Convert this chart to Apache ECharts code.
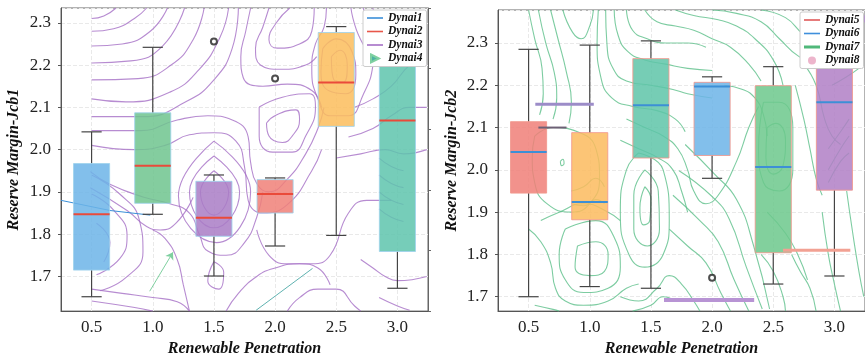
<!DOCTYPE html>
<html><head><meta charset="utf-8">
<script src="https://cdn.jsdelivr.net/npm/echarts@6/dist/echarts.min.js"></script>
<style>html,body{margin:0;padding:0;background:#fff}#c{width:865px;height:362px}</style>
</head><body><div id="c"></div>
<script>
const categories = ['0.5','1.0','1.5','2.0','2.5','3.0'];
// [min, q1, median, q3, max]
const jcb1Box = [
  [1.652, 1.715, 1.847, 1.967, 2.042],
  [1.847, 1.873, 1.962, 2.087, 2.242],
  [1.701, 1.795, 1.839, 1.925, 1.940],
  [1.772, 1.850, 1.895, 1.929, 1.933],
  [1.797, 2.055, 2.159, 2.277, 2.291],
  [1.672, 1.759, 2.069, 2.290, 2.320]
];
const jcb1Outliers = [[2, 2.256], [3, 2.168]];
const jcb2Box = [
  [1.700, 1.945, 2.042, 2.114, 2.285],
  [1.724, 1.882, 1.924, 2.088, 2.295],
  [1.720, 2.028, 2.153, 2.263, 2.305],
  [1.980, 2.034, 2.197, 2.207, 2.220],
  [1.730, 1.804, 2.007, 2.199, 2.244],
  [1.749, 1.952, 2.160, 2.300, 2.340]
];
const jcb2Outliers = [[3, 1.745]];

// extra marks (data coords: x in penetration units, y in reserve margin)
const dynai1Line = [[0.25, 1.88], [0.65, 1.856], [0.98, 1.845]];
const dynai4Arrow = [[0.975, 1.665], [1.165, 1.757]];
const tealLine = [[1.845, 1.62], [2.306, 1.719]];
const dynai5Bar = [[2.58, 1.81], [3.13, 1.81]];
const purpleBarTop = [[0.555, 2.155], [1.033, 2.155]];
const darkBar = [[0.58, 2.1], [0.81, 2.1]];
const purpleBarBottom = [[1.607, 1.692], [2.344, 1.692]];
const purpleSquare = [[3.235, 2.357]];

// approximate contour paths read from the background
const contourLeft = [
  [[0.5,2.31],[0.6,2.316],[0.7,2.335]],
  [[0.5,2.28],[0.68,2.286],[0.85,2.31],[0.95,2.335]],
  [[0.5,2.245],[0.75,2.25],[0.98,2.28],[1.12,2.335]],
  [[0.5,2.205],[0.82,2.21],[1.08,2.245],[1.26,2.335]],
  [[0.5,2.165],[0.88,2.168],[1.15,2.2],[1.33,2.26],[1.42,2.335]],
  [[0.5,2.12],[0.78,2.113],[1.14,2.136],[1.38,2.19],[1.55,2.266],[1.62,2.335]],
  [[0.5,2.078],[0.92,2.078],[1.27,2.113],[1.5,2.165],[1.65,2.24],[1.7,2.335]],
  [[1.8,2.335],[1.76,2.28],[1.72,2.22],[1.74,2.17],[1.9,2.15],[2.1,2.155],[2.3,2.14],[2.38,2.1]],
  [[1.95,2.335],[1.9,2.29],[1.84,2.24],[1.88,2.2],[2.05,2.19],[2.25,2.2],[2.34,2.22]],
  [[2.12,2.335],[2.01,2.3],[1.95,2.26],[2.02,2.24],[2.2,2.25],[2.3,2.28],[2.32,2.335]],
  [[0.5,2.045],[0.9,2.045],[1.2,2.07],[1.45,2.08],[1.65,2.07],[1.78,2.03],[1.8,1.97],[1.85,1.92],[1.95,1.9],[2.1,1.93],[2.25,1.99],[2.35,2.05],[2.4,2.1]],
  [[0.5,2.01],[0.85,2.0],[1.1,2.01],[1.3,2.035],[1.5,2.04],[1.68,2.02],[1.75,1.96],[1.78,1.88],[1.9,1.85],[2.1,1.87],[2.3,1.95],[2.38,2.0]],
  [[1.93,2.063],[2.01,2.082],[2.17,2.094],[2.2,2.071],[2.14,2.032],[2.06,2.017],[1.95,2.032],[1.93,2.063]],
  [[1.87,2.101],[2.06,2.124],[2.28,2.132],[2.33,2.101],[2.25,2.032],[2.14,1.994],[1.98,1.994],[1.87,2.032],[1.87,2.101]],
  [[2.39,2.239],[2.5,2.262],[2.63,2.231],[2.66,2.178],[2.58,2.132],[2.44,2.139],[2.375,2.185],[2.39,2.239]],
  [[2.46,2.22],[2.53,2.235],[2.59,2.2],[2.56,2.16],[2.48,2.165],[2.46,2.22]],
  [[2.42,2.335],[2.4,2.29],[2.33,2.25],[2.3,2.19],[2.35,2.12],[2.45,2.08],[2.6,2.08],[2.72,2.13],[2.8,2.2],[2.82,2.28],[2.8,2.335]],
  [[2.65,2.1],[2.8,2.12],[2.95,2.15],[3.1,2.2],[3.24,2.22]],
  [[2.6,2.03],[2.8,2.05],[2.95,2.08],[3.1,2.1],[3.24,2.1]],
  [[2.5,1.98],[2.7,1.99],[2.9,2.0],[3.05,1.99],[3.24,2.0]],
  [[1.5,1.95],[1.62,1.9],[1.5,1.845],[1.39,1.9],[1.5,1.95]],
  [[1.5,1.985],[1.71,1.9],[1.5,1.815],[1.3,1.9],[1.5,1.985]],
  [[1.5,2.02],[1.8,1.9],[1.52,1.78],[1.21,1.89],[1.5,2.02]],
  [[0.49,1.948],[0.65,1.918],[0.92,1.888],[1.14,1.872],[1.3,1.85],[1.38,1.8],[1.45,1.76],[1.6,1.75],[1.75,1.78],[1.85,1.84],[1.9,1.9]],
  [[0.49,1.91],[0.79,1.856],[0.95,1.818],[1.06,1.81],[1.19,1.826],[1.33,1.887]],
  [[0.5,1.94],[0.73,1.895],[0.89,1.834],[0.92,1.758],[0.78,1.697],[0.57,1.666]],
  [[0.5,1.895],[0.68,1.857],[0.79,1.796],[0.73,1.742],[0.54,1.704]],
  [[0.54,1.826],[0.65,1.78],[0.6,1.734]],
  [[0.5,1.642],[0.84,1.627],[1.0,1.618]],
  [[0.5,1.67],[0.75,1.66],[1.0,1.65],[1.2,1.64],[1.3,1.618]],
  [[1.5,1.735],[1.58,1.71],[1.54,1.67],[1.45,1.69],[1.5,1.735]],
  [[1.0,1.81],[1.1,1.79],[1.2,1.74],[1.25,1.68],[1.3,1.618]],
  [[1.6,1.618],[1.7,1.66],[1.85,1.7],[2.0,1.72],[2.2,1.73],[2.35,1.72],[2.45,1.68]],
  [[1.85,1.81],[1.95,1.75],[2.1,1.73],[2.3,1.73],[2.45,1.75],[2.6,1.85],[2.75,1.88],[2.95,1.88]],
  [[2.1,1.618],[2.2,1.65],[2.35,1.67],[2.5,1.67],[2.65,1.63],[2.7,1.618]],
  [[2.7,1.74],[2.8,1.72],[2.9,1.7],[3.0,1.69],[3.24,1.7]],
  [[2.85,1.65],[3.0,1.63],[3.1,1.62]],
  [[2.85,1.98],[2.95,1.96],[3.05,1.95]],
  [[2.85,1.94],[2.95,1.92],[3.05,1.91]],
  [[2.85,1.9],[2.95,1.88],[3.05,1.87]],
  [[2.85,1.86],[2.95,1.84],[3.05,1.83]],
  [[2.72,2.335],[2.78,2.3],[2.9,2.27],[3.05,2.26],[3.24,2.27]],
  [[2.62,2.335],[2.7,2.26],[2.85,2.21],[3.0,2.2],[3.24,2.2]]
];
const contourRight = [
  [[0.5,2.378],[0.55,2.31],[0.61,2.24],[0.62,2.18],[0.59,2.13]],
  [[0.58,2.378],[0.64,2.3],[0.71,2.23],[0.73,2.17],[0.7,2.12]],
  [[0.68,2.378],[0.74,2.31],[0.81,2.23],[0.85,2.16],[0.83,2.11]],
  [[0.78,2.378],[0.86,2.325],[0.93,2.31],[1.0,2.34],[1.03,2.378]],
  [[1.07,2.378],[1.06,2.3],[1.09,2.22],[1.18,2.17],[1.35,2.15],[1.55,2.14],[1.7,2.12],[1.78,2.09]],
  [[1.13,2.378],[1.14,2.3],[1.19,2.24],[1.3,2.21],[1.5,2.2],[1.68,2.19],[1.8,2.18],[2.0,2.17]],
  [[1.2,2.378],[1.23,2.32],[1.31,2.28],[1.45,2.26],[1.62,2.25],[1.8,2.24],[2.0,2.235]],
  [[1.3,2.378],[1.35,2.33],[1.47,2.31],[1.62,2.3],[1.8,2.3],[1.95,2.29]],
  [[1.45,2.378],[1.55,2.35],[1.7,2.34],[1.85,2.33],[2.0,2.31],[2.15,2.29],[2.3,2.25],[2.4,2.21]],
  [[1.7,2.378],[1.85,2.365],[2.05,2.355],[2.2,2.34],[2.35,2.31],[2.5,2.26],[2.58,2.2]],
  [[2.0,2.378],[2.2,2.37],[2.4,2.35],[2.55,2.31],[2.7,2.27],[2.85,2.25],[3.0,2.25]],
  [[2.4,2.378],[2.6,2.36],[2.75,2.32],[2.9,2.3],[3.05,2.3]],
  [[1.3,2.12],[1.45,2.1],[1.6,2.08],[1.72,2.05],[1.8,2.0],[1.85,1.95],[1.95,1.92],[2.05,1.94],[2.2,2.02],[2.3,2.1],[2.38,2.15]],
  [[1.25,2.07],[1.4,2.05],[1.55,2.03],[1.68,2.0],[1.75,1.95],[1.8,1.9]],
  [[2.1,2.2],[2.25,2.19],[2.35,2.17],[2.42,2.13],[2.45,2.08]],
  [[2.45,2.1],[2.52,2.11],[2.6,2.07],[2.58,2.01],[2.5,1.99],[2.44,2.03],[2.45,2.1]],
  [[2.42,2.16],[2.55,2.16],[2.66,2.1],[2.66,2.0],[2.55,1.95],[2.42,1.97],[2.38,2.05],[2.42,2.16]],
  [[2.68,2.2],[2.75,2.12],[2.8,2.05],[2.85,1.98],[2.9,1.94]],
  [[2.75,2.25],[2.85,2.2],[2.92,2.12],[2.98,2.08],[3.05,2.06]],
  [[2.95,2.05],[3.05,2.09],[3.12,2.12]],
  [[2.95,2.0],[3.05,2.05],[3.12,2.08]],
  [[2.95,1.97],[3.05,2.02],[3.12,2.04]],
  [[2.98,2.2],[3.1,2.22],[3.2,2.24]],
  [[0.55,2.08],[0.7,2.1],[0.9,2.09],[1.05,2.05],[1.08,1.98],[1.0,1.92],[0.85,1.9],[0.65,1.92],[0.55,1.97],[0.53,2.03],[0.55,2.08]],
  [[0.76,2.02],[0.78,2.025],[0.79,2.015],[0.77,2.01],[0.76,2.02]],
  [[0.85,1.95],[0.95,1.96],[1.05,1.98],[1.12,1.96]],
  [[0.85,1.92],[0.95,1.915],[1.05,1.93],[1.12,1.92]],
  [[1.45,1.96],[1.5,1.93],[1.49,1.88],[1.44,1.87],[1.41,1.91],[1.45,1.96]],
  [[1.45,2.0],[1.56,1.95],[1.57,1.86],[1.47,1.82],[1.36,1.86],[1.36,1.94],[1.45,2.0]],
  [[1.4,2.04],[1.6,2.0],[1.65,1.88],[1.6,1.8],[1.45,1.77],[1.32,1.8],[1.25,1.9],[1.3,2.0],[1.4,2.04]],
  [[0.9,1.82],[1.05,1.83],[1.15,1.8],[1.12,1.76],[1.0,1.75],[0.88,1.77],[0.9,1.82]],
  [[0.8,1.86],[1.05,1.88],[1.2,1.84],[1.25,1.77],[1.15,1.72],[0.95,1.71],[0.8,1.74],[0.75,1.8],[0.8,1.86]],
  [[0.6,1.88],[0.75,1.9],[0.95,1.92],[1.15,1.9],[1.25,1.88]],
  [[0.5,1.86],[0.6,1.83],[0.68,1.78],[0.72,1.72],[0.8,1.69],[0.95,1.68],[1.15,1.69],[1.3,1.72],[1.4,1.73]],
  [[0.55,1.68],[0.7,1.67],[0.75,1.666]],
  [[1.25,1.7],[1.4,1.69],[1.55,1.72],[1.65,1.75],[1.75,1.73],[1.85,1.69],[1.9,1.666]],
  [[1.35,1.666],[1.5,1.68],[1.6,1.7],[1.7,1.69]],
  [[1.73,1.998],[2.0,1.937],[2.14,1.884],[2.28,1.77],[2.41,1.671]],
  [[1.78,2.06],[2.02,1.99],[2.2,1.93],[2.34,1.82],[2.47,1.671]],
  [[1.68,1.94],[1.9,1.88],[2.05,1.83],[2.18,1.74],[2.3,1.666]],
  [[1.65,1.86],[1.8,1.82],[1.95,1.78],[2.07,1.71],[2.15,1.666]],
  [[2.65,1.8],[2.72,1.76],[2.8,1.72],[2.85,1.666]],
  [[2.9,1.9],[2.95,1.8],[3.0,1.73],[3.05,1.666]],
  [[3.1,1.95],[3.15,1.85],[3.2,1.76],[3.24,1.7]],
  [[2.4,1.8],[2.5,1.76],[2.58,1.7],[2.6,1.666]],
  [[2.45,1.9],[2.6,1.85],[2.7,1.8],[2.78,1.74]]
];

const boxColorsLeft = ['#6cb4e8','#6ec48e','#a97cc6','#f08078','#fbbd5c','#5ec4ad'];
const boxColorsRight = ['#f07f78','#fbbb5e','#5ec4a8','#6cb4e8','#6cc88c','#b07fc6'];
const SERIF = "'Liberation Serif','Times New Roman',serif";
const LINE_ICON = 'path://M0,0H16V1.6H0Z';
const THICK_ICON = 'path://M0,0H16V3H0Z';

function boxRenderer(colors, border, medianColor) {
  return function (params, api) {
    const i = api.value(0);
    const lo = api.coord([i, api.value(1)]);
    const q1 = api.coord([i, api.value(2)]);
    const md = api.coord([i, api.value(3)]);
    const q3 = api.coord([i, api.value(4)]);
    const hi = api.coord([i, api.value(5)]);
    const band = api.size([1, 0])[0];
    const bw = band * 0.59, cw = band * 0.33, cx = lo[0];
    const ws = {stroke: '#444', lineWidth: 1.2};
    return {type: 'group', children: [
      {type: 'line', shape: {x1: cx, y1: hi[1], x2: cx, y2: q3[1]}, style: ws},
      {type: 'line', shape: {x1: cx, y1: q1[1], x2: cx, y2: lo[1]}, style: ws},
      {type: 'line', shape: {x1: cx - cw / 2, y1: hi[1], x2: cx + cw / 2, y2: hi[1]}, style: ws},
      {type: 'line', shape: {x1: cx - cw / 2, y1: lo[1], x2: cx + cw / 2, y2: lo[1]}, style: ws},
      {type: 'rect', shape: {x: cx - bw / 2, y: q3[1], width: bw, height: q1[1] - q3[1]},
        style: {fill: colors[params.dataIndex], stroke: border, lineWidth: 1, opacity: 0.85}},
      {type: 'line', shape: {x1: cx - bw / 2, y1: md[1], x2: cx + bw / 2, y2: md[1]}, style: {stroke: medianColor, lineWidth: 2}}
    ]};
  };
}

function contourSeries(list, name, color, xi, yi) {
  return list.map(pts => ({
    type: 'line', name: name, xAxisIndex: xi, yAxisIndex: yi, data: pts, smooth: 0.5,
    symbol: 'none', silent: true, z: 1,
    lineStyle: {color: color, width: 1.1, opacity: 0.8}, itemStyle: {color: color}
  }));
}
function seg(name, pts, color, width, xi, yi, z) {
  return {type: 'line', name: name, xAxisIndex: xi, yAxisIndex: yi, data: pts, symbol: 'none', silent: true,
    z: z || 2, lineStyle: {color: color, width: width}, itemStyle: {color: color}};
}

const nameStyle = {fontFamily: SERIF, fontStyle: 'italic', fontWeight: 'bold', fontSize: 16, color: '#111'};
const labelStyle = {fontFamily: SERIF, fontSize: 17, color: '#222'};
const legendText = {fontFamily: SERIF, fontStyle: 'italic', fontWeight: 'bold', fontSize: 11.5, color: '#111', lineHeight: 8};

function catAxis(g) {
  return {type: 'category', gridIndex: g, data: categories, boundaryGap: true,
    axisLine: {lineStyle: {color: '#555'}}, axisTick: {alignWithLabel: true, length: 3, lineStyle: {color: '#555'}},
    axisLabel: Object.assign({margin: 8}, labelStyle), splitLine: {show: false},
    name: 'Renewable Penetration', nameLocation: 'middle', nameGap: 22, nameTextStyle: nameStyle};
}
function valXAxis(g) {
  return {type: 'value', gridIndex: g, min: 0.25, max: 3.25, splitNumber: 6,
    axisLine: {show: false}, axisTick: {show: false}, axisLabel: {show: false},
    splitLine: {show: true, lineStyle: {color: '#e9e9e9', type: 'dashed'}}};
}
function valYAxis(g, min, max, name, gap) {
  return {type: 'value', gridIndex: g, min: min, max: max, splitNumber: 5,
    axisLine: {show: true, lineStyle: {color: '#555'}}, axisTick: {show: true, length: 3, lineStyle: {color: '#555'}},
    axisLabel: Object.assign({margin: 10, showMinLabel: false, showMaxLabel: false,
      formatter: v => v.toFixed(1)}, labelStyle),
    splitLine: {show: true, lineStyle: {color: '#e9e9e9', type: 'dashed'}},
    name: name, nameLocation: 'middle', nameGap: gap, nameTextStyle: nameStyle};
}

const series = [].concat(
  contourSeries(contourLeft, 'Dynai3', '#a56fc6', 1, 0),
  contourSeries(contourRight, 'Dynai7', '#5dbf8a', 3, 2),
  [
    {type: 'custom', name: 'boxJcb1', xAxisIndex: 0, yAxisIndex: 0, z: 3,
      renderItem: boxRenderer(boxColorsLeft, '#9fd2ec', '#ea4a3a'),
      encode: {x: 0, y: [1, 2, 3, 4, 5]},
      data: jcb1Box.map((b, i) => [i].concat(b))},
    {type: 'custom', name: 'boxJcb2', xAxisIndex: 2, yAxisIndex: 2, z: 3,
      renderItem: boxRenderer(boxColorsRight, '#f1968c', '#3d8fd6'),
      encode: {x: 0, y: [1, 2, 3, 4, 5]},
      data: jcb2Box.map((b, i) => [i].concat(b))},
    {type: 'scatter', name: 'outl1', xAxisIndex: 0, yAxisIndex: 0, z: 4, symbol: 'emptyCircle', symbolSize: 6,
      itemStyle: {color: '#222', borderWidth: 1}, data: jcb1Outliers},
    {type: 'scatter', name: 'outl2', xAxisIndex: 2, yAxisIndex: 2, z: 4, symbol: 'emptyCircle', symbolSize: 6,
      itemStyle: {color: '#222', borderWidth: 1}, data: jcb2Outliers},
    seg('Dynai1', dynai1Line, '#3a8fd8', 1, 1, 0, 2),
    seg('Dynai2', [], '#e8574a', 1.5, 1, 0, 2),
    {type: 'lines', name: 'Dynai4', coordinateSystem: 'cartesian2d', xAxisIndex: 1, yAxisIndex: 0, z: 2,
      symbol: ['none', 'arrow'], symbolSize: 7, silent: true,
      lineStyle: {color: '#7fd0a0', width: 1, opacity: 1}, itemStyle: {color: '#4db3a4'},
      data: [{coords: dynai4Arrow}]},
    seg('tealLine', tealLine, '#5fb2b0', 1, 1, 0, 2),
    seg('Dynai5', dynai5Bar, '#f2a193', 3, 3, 2, 4),
    seg('Dynai6', [], '#3f8fdc', 1.5, 3, 2, 2),
    seg('barTop', purpleBarTop, '#9c8cc8', 3, 3, 2, 4),
    seg('barDark', darkBar, '#6d6075', 2, 3, 2, 4),
    seg('barBottom', purpleBarBottom, '#b894d4', 4, 3, 2, 4),
    {type: 'scatter', name: 'Dynai8', xAxisIndex: 3, yAxisIndex: 2, data: [], itemStyle: {color: '#e9a3bf'}},
    {type: 'scatter', name: 'sq', xAxisIndex: 3, yAxisIndex: 2, z: 2, symbol: 'rect', symbolSize: [5, 7],
      itemStyle: {color: '#b58fd0'}, data: purpleSquare}
  ]
);

const chart = echarts.init(document.getElementById('c'), null, {renderer: 'canvas'});
chart.setOption({
  animation: false,
  backgroundColor: '#fff',
  grid: [
    {left: 61, top: 8, width: 367, height: 312, show: true, borderColor: '#666', borderWidth: 1},
    {left: 498, top: 10, width: 367, height: 312, show: true, borderColor: '#666', borderWidth: 1}
  ],
  xAxis: [catAxis(0), valXAxis(0), catAxis(1), valXAxis(1)],
  yAxis: [
    valYAxis(0, 1.618, 2.335, 'Reserve Margin-Jcb1', 39),
    {type: 'value', gridIndex: 0, position: 'right', min: 0, max: 5, interval: 1,
      axisLine: {show: true, lineStyle: {color: '#666'}}, axisTick: {show: true, length: 3, lineStyle: {color: '#666'}},
      axisLabel: {show: false}, splitLine: {show: false}},
    valYAxis(1, 1.666, 2.378, 'Reserve Margin-Jcb2', 38)
  ],
  legend: [
    {left: 363, top: 10, orient: 'vertical', itemWidth: 16, itemHeight: 8, itemGap: 1.5,
      padding: [2, 4, 2, 4], backgroundColor: '#fff', borderColor: '#ccc', borderWidth: 1, borderRadius: 2,
      textStyle: legendText, selectedMode: false,
      data: [{name: 'Dynai1', icon: LINE_ICON, itemStyle: {color: '#3a8fd8'}},
        {name: 'Dynai2', icon: LINE_ICON, itemStyle: {color: '#e8574a'}},
        {name: 'Dynai3', icon: LINE_ICON, itemStyle: {color: '#a56fc6'}},
        {name: 'Dynai4', icon: 'path://M0,0L8,4L0,8Z', itemStyle: {color: '#4db3a4'}}]},
    {left: 800, top: 12, orient: 'vertical', itemWidth: 16, itemHeight: 8, itemGap: 1.5,
      padding: [2, 4, 2, 4], backgroundColor: '#fff', borderColor: '#ccc', borderWidth: 1, borderRadius: 2,
      textStyle: legendText, selectedMode: false,
      data: [{name: 'Dynai5', icon: LINE_ICON, itemStyle: {color: '#e05a5a'}},
        {name: 'Dynai6', icon: LINE_ICON, itemStyle: {color: '#3f8fdc'}},
        {name: 'Dynai7', icon: THICK_ICON, itemStyle: {color: '#50b87a'}},
        {name: 'Dynai8', icon: 'circle', itemStyle: {color: '#e9a3bf'}}]}
  ],
  series: series
});
</script></body></html>
